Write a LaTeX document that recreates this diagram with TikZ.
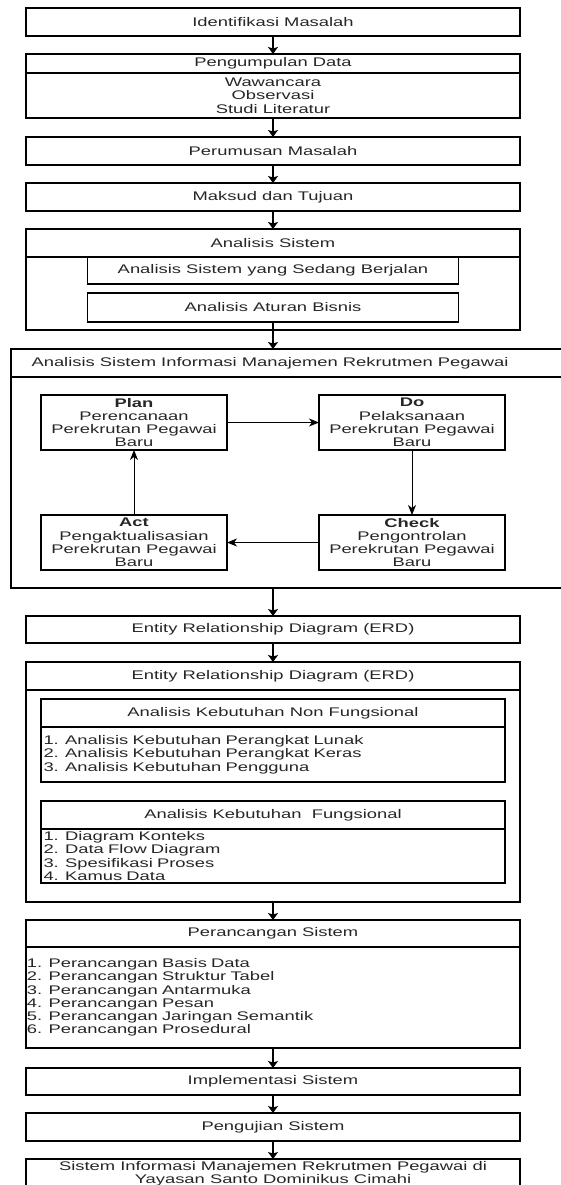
\documentclass[tikz,border=0pt]{standalone}
\usepackage{fontspec}
\setmainfont[FakeStretch=1.47]{Liberation Sans}
\usetikzlibrary{positioning,arrows.meta}

\begin{document}
\begin{tikzpicture}[x=1pt,y=-1pt,
    font=\fontsize{12.5}{13.3}\selectfont, text=black!85,
    box/.style={draw,line width=1.2pt,minimum width=494pt,minimum height=28pt,inner sep=0pt,outer sep=0pt,align=center},
    inbox/.style={draw,line width=1.2pt,minimum width=371pt,minimum height=27pt,inner sep=0pt,outer sep=0pt},
    pbox/.style={draw,line width=1.1pt,minimum width=186pt,minimum height=55pt,inner sep=0pt,outer sep=0pt,align=center},
    sbox/.style={draw,line width=1.2pt,minimum width=464pt,minimum height=28pt,inner sep=0pt,outer sep=0pt},
    lbox/.style={draw,line width=1.2pt,text width=459pt,inner xsep=2.5pt,inner ysep=0pt,outer sep=0pt,align=left},
    arr/.style={-{Stealth[length=7pt,width=10pt,inset=1.5pt]},line width=1.2pt},
    parr/.style={-{Stealth[length=10pt,width=8pt,inset=3pt]},line width=1pt}]
    \useasboundingbox (0,0) rectangle (561,1185);

    % 前面的步骤
    \node[box] (idm) at (273,22) {Identifikasi Masalah};
    \node[box,minimum height=19pt] (pgdt) at (273,63.5) {Pengumpulan Data};
    \node[box,minimum height=45pt,below=0pt of pgdt] (pgdb) {Wawancara\\Observasi\\Studi Literatur};
    \node[box] (prm) at (273,151) {Perumusan Masalah};
    \node[box] (mdt) at (273,197) {Maksud dan Tujuan};

    % 分析系统
    \node[box] (anst) at (273,243) {Analisis Sistem};
    \node[box,minimum height=73pt,below=0pt of anst] (ansb) {};
    \node[inbox] (asb) at (273,270.5) {Analisis Sistem yang Sedang Berjalan};
    \node[inbox,minimum height=29pt] (aab) at (273,307.5) {Analisis Aturan Bisnis};

    % 大框和 PDCA
    \node[draw,line width=1.2pt,minimum width=564pt,minimum height=239pt,inner sep=0pt,outer sep=0pt] (simf) at (293,468.5) {};
    \coordinate (simd) at (0,377);
    \draw[line width=1.2pt] (simf.west |- simd) -- (simf.east |- simd);
    \node (simt) at (270,363) {Analisis Sistem Informasi Manajemen Rekrutmen Pegawai};
    \node[pbox] (plan) at (134,422.5) {\textbf{Plan}\\Perencanaan\\Perekrutan Pegawai\\Baru};
    \node[pbox] (do) at (412,422.5) {\textbf{Do}\\Pelaksanaan\\Perekrutan Pegawai\\Baru};
    \node[pbox] (act) at (134,542.5) {\textbf{Act}\\Pengaktualisasian\\Perekrutan Pegawai\\Baru};
    \node[pbox] (check) at (412,542.5) {\textbf{Check}\\Pengontrolan\\Perekrutan Pegawai\\Baru};
    \draw[parr] (plan) -- (do);
    \draw[parr] (do) -- (check);
    \draw[parr] (check) -- (act);
    \draw[parr] (act) -- (plan);

    % ERD
    \node[box,minimum height=27pt] (erd1) at (273,629.5) {Entity Relationship Diagram (ERD)};
    \node[box] (erdt) at (273,676) {Entity Relationship Diagram (ERD)};
    \node[box,minimum height=212pt,below=0pt of erdt] (erdb) {};
    \node[sbox] (knft) at (273,713) {Analisis Kebutuhan Non Fungsional};
    \node[lbox,minimum height=55pt,below=0pt of knft] (knfb) {1. Analisis Kebutuhan Perangkat Lunak\\2. Analisis Kebutuhan Perangkat Keras\\3. Analisis Kebutuhan Pengguna};
    \node[sbox] (kft) at (273,815) {Analisis Kebutuhan~ Fungsional};
    \node[lbox,minimum height=54pt,below=0pt of kft] (kfb) {1. Diagram Konteks\\2. Data Flow Diagram\\3. Spesifikasi Proses\\4. Kamus Data};

    % 设计和后面的步骤
    \node[box,minimum height=27pt] (prct) at (273,933.5) {Perancangan Sistem};
    \node[box,text width=492pt,inner xsep=1pt,align=left,minimum height=101pt,below=0pt of prct] (prcb) {1. Perancangan Basis Data\\2. Perancangan Struktur Tabel\\3. Perancangan Antarmuka\\4. Perancangan Pesan\\5. Perancangan Jaringan Semantik\\6. Perancangan Prosedural};
    \node[box,minimum height=27pt] (imp) at (273,1081.5) {Implementasi Sistem};
    \node[box] (pgj) at (273,1127) {Pengujian Sistem};
    \node[box,minimum height=30pt] (sys) at (273,1174) {Sistem Informasi Manajemen Rekrutmen Pegawai di\\Yayasan Santo Dominikus Cimahi};

    % 箭头
    \draw[arr] (idm) -- (pgdt);
    \draw[arr] (pgdb) -- (prm);
    \draw[arr] (prm) -- (mdt);
    \draw[arr] (mdt) -- (anst);
    \draw[arr] (aab) -- (aab |- simf.north);
    \draw[arr] (simf.south -| erd1) -- (erd1);
    \draw[arr] (erd1) -- (erdt);
    \draw[arr] (erdb) -- (prct);
    \draw[arr] (prcb) -- (imp);
    \draw[arr] (imp) -- (pgj);
    \draw[arr] (pgj) -- (sys);
\end{tikzpicture}
\end{document}
